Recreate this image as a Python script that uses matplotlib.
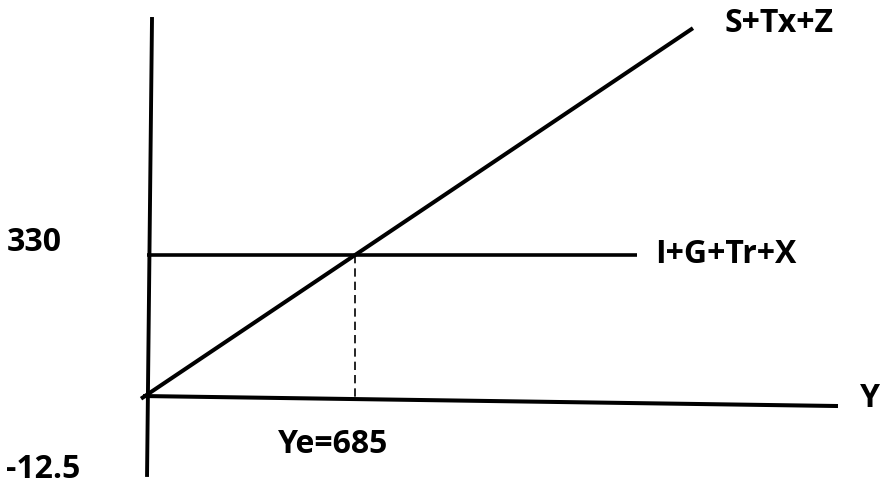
import numpy as np
import matplotlib.pyplot as plt

# model values
autonomous = -12.5          # intercept of S+Tx+Z
slope = 0.5                 # marginal leakage
injections = 330            # I+G+Tr+X
ye = 685                    # equilibrium income

leak_y = np.array([-13.0, 1787.0])
inj_y = np.array([6.0, 1605.0])

# hand-drawn axes (slightly tilted)
vaxis_x = [22.8, 6.5]
vaxis_v = [908.0, -209.0]
haxis_x = [-6.5, 2260.0]
haxis_v = [-12.5, -36.8]

plt.rcParams['font.family'] = ['Open Sans', 'DejaVu Sans']
fig = plt.figure(figsize=(8.8, 4.85), dpi=100)
ax = fig.add_axes([0, 0, 1, 1])
ax.set_xlim(-473, 2397)
ax.set_ylim(-226.2, 951.8)
ax.axis('off')

ax.plot(vaxis_x, vaxis_v, color='black', lw=2.8, solid_capstyle='butt')
ax.plot(haxis_x, haxis_v, color='black', lw=2.9, solid_capstyle='butt')
ax.plot(leak_y, autonomous + slope * leak_y, color='black', lw=2.9, solid_capstyle='butt')
ax.plot(inj_y, [injections, injections], color='black', lw=2.6, solid_capstyle='butt')
ax.plot([ye, ye], [injections, -16], color='black', lw=1.2, ls=(0, (5, 3)))

fs = 23
kw = dict(fontsize=fs, fontweight='bold', va='baseline', ha='left')
ax.text(-452, 342, '330', **kw)
ax.text(-452, -208, '-12.5', **kw)
ax.text(ye - 72, -148.5, 'Ye=685', fontsize=fs, fontweight='bold', va='baseline', ha='center')
ax.text(1890, 874, 'S+Tx+Z', **kw)
ax.text(1665, 313, 'I+G+Tr+X', **kw)
ax.text(2332, -36.8, 'Y', **kw)

fig.savefig('out.png', dpi=100)
